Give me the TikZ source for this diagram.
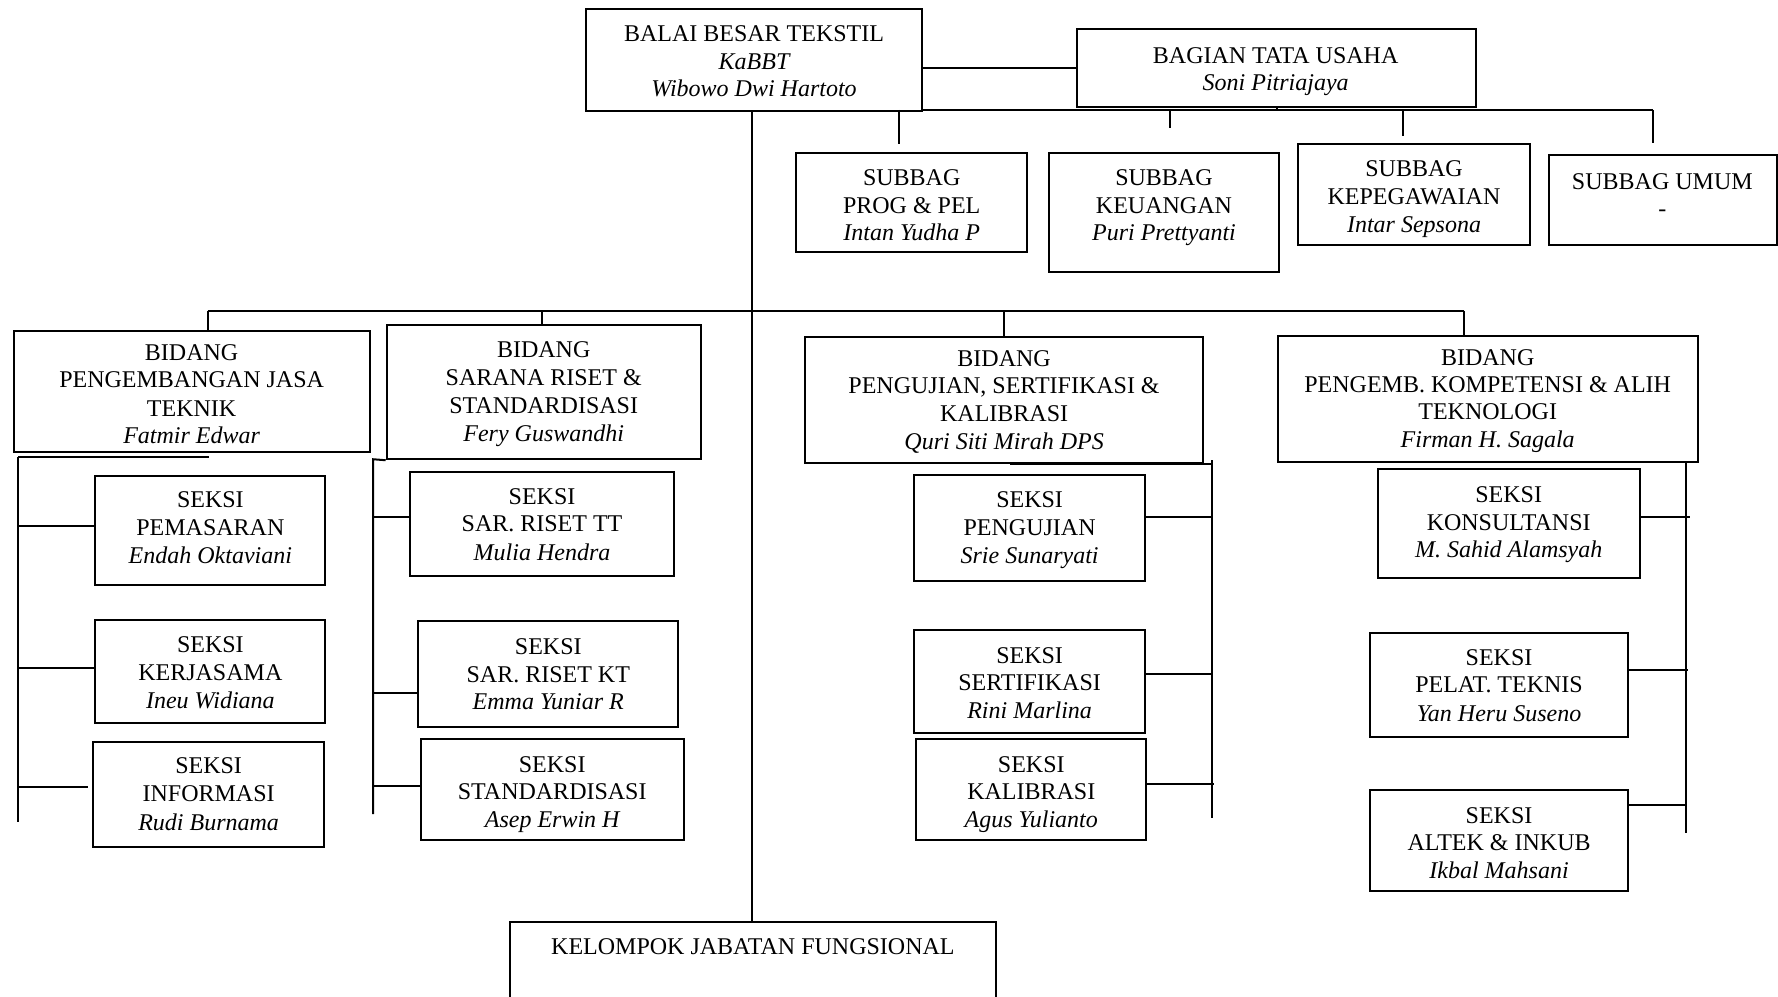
\documentclass[tikz,border=0pt]{standalone}
\usepackage{fontspec}
\setmainfont{Liberation Serif}
\usetikzlibrary{fit}
\tikzset{
  ln/.style={line width=1pt},
  box/.style={draw, line width=1pt, inner sep=0pt, rectangle},
  txt/.style={anchor=base, inner sep=0pt, font=\fontsize{12}{13.8}\selectfont},
  nm/.style={anchor=base, inner sep=0pt, font=\fontsize{12}{13.8}\selectfont\itshape}
}
\newcommand\obox[5]{\node[box, fit={(#2,#3) (#4,#5)}] (#1) {};}
\begin{document}
\begin{tikzpicture}[x=0.56696pt, y=-0.56696pt]
\useasboundingbox (0,0) rectangle (1568,879);
\clip (0,0) rectangle (1568,879);

% ---------- top level ----------
\obox{balai}{517}{8}{813}{98}
\node[txt] (balai-1) at (665,37) {BALAI BESAR TEKSTIL};
\node[nm]  (balai-2) at (665,61) {KaBBT};
\node[nm]  (balai-3) at (665,85.5) {Wibowo Dwi Hartoto};

\obox{bagian}{950}{26}{1302}{94}
\node[txt] (bagian-1) at (1125,56) {BAGIAN TATA USAHA};
\node[nm]  (bagian-2) at (1125,80) {Soni Pitriajaya};

\obox{prog}{702}{135}{906}{222}
\node[txt] (prog-1) at (804,164) {SUBBAG};
\node[txt] (prog-2) at (804,188) {PROG \& PEL};
\node[nm]  (prog-3) at (804,212) {Intan Yudha P};

\obox{keu}{925}{135}{1128}{240}
\node[txt] (keu-1) at (1026.5,164) {SUBBAG};
\node[txt] (keu-2) at (1026.5,188) {KEUANGAN};
\node[nm]  (keu-3) at (1026.5,212) {Puri Prettyanti};

\obox{kepeg}{1145}{127}{1349}{216}
\node[txt] (kepeg-1) at (1247,156) {SUBBAG};
\node[txt] (kepeg-2) at (1247,180) {KEPEGAWAIAN};
\node[nm]  (kepeg-3) at (1247,205) {Intar Sepsona};

\obox{umum}{1366}{137}{1567}{216}
\node[txt] (umum-1) at (1466,167) {SUBBAG UMUM};
\node[txt] (umum-2) at (1466,191) {-};

% connectors top
\draw[ln] (balai.east |- bagian.west) -- (bagian.west);
\coordinate (tuR) at (1458,97);
\coordinate (d1) at (793,127);
\coordinate (d2) at (1032,113);
\coordinate (d3) at (1237,120);
\coordinate (d4) at (1458,126);
\draw[ln] (balai.east |- tuR) -- (tuR);
\draw[ln] (bagian.south) -- (bagian.south |- tuR);
\draw[ln] (d1 |- tuR) -- (d1);
\draw[ln] (d2 |- tuR) -- (d2);
\draw[ln] (d3 |- tuR) -- (d3);
\draw[ln] (tuR) -- (d4);

% ---------- bidang ----------
\obox{jasa}{12}{292}{326}{399}
\node[txt] (jasa-1) at (169,318) {BIDANG};
\node[txt] (jasa-2) at (169,342) {PENGEMBANGAN JASA};
\node[txt] (jasa-3) at (169,367) {TEKNIK};
\node[nm]  (jasa-4) at (169,391) {Fatmir Edwar};

\obox{sarana}{341}{287}{618}{405}
\node[txt] (sarana-1) at (479.5,315) {BIDANG};
\node[txt] (sarana-2) at (479.5,340) {SARANA RISET \&};
\node[txt] (sarana-3) at (479.5,365) {STANDARDISASI};
\node[nm]  (sarana-4) at (479.5,389) {Fery Guswandhi};

\obox{uji}{710}{297}{1061}{408}
\node[txt] (uji-1) at (885.5,323) {BIDANG};
\node[txt] (uji-2) at (885.5,347) {PENGUJIAN, SERTIFIKASI \&};
\node[txt] (uji-3) at (885.5,372) {KALIBRASI};
\node[nm]  (uji-4) at (885.5,396) {Quri Siti Mirah DPS};

\obox{komp}{1127}{296}{1497}{407}
\node[txt] (komp-1) at (1312,322) {BIDANG};
\node[txt] (komp-2) at (1312,346) {PENGEMB. KOMPETENSI \& ALIH};
\node[txt] (komp-3) at (1312,370) {TEKNOLOGI};
\node[nm]  (komp-4) at (1312,395) {Firman H. Sagala};

% main bus
\coordinate (busL) at (183,274);
\coordinate (b2) at (478,274);
\coordinate (b3) at (885,274);
\coordinate (busR) at (1291,274);
\coordinate (trunk) at (663,274);
\draw[ln] (busL) -- (busR);
\draw[ln] (busL) -- (jasa.north -| busL);
\draw[ln] (b2) -- (sarana.north -| b2);
\draw[ln] (b3) -- (uji.north -| b3);
\draw[ln] (busR) -- (komp.north -| busR);

% ---------- kelompok ----------
\obox{kel}{450}{813}{878}{900}
\node[txt] (kel-1) at (664,842) {KELOMPOK JABATAN FUNGSIONAL};
\draw[ln] (balai.south -| trunk) -- (kel.north -| trunk);

% ---------- seksi: jasa ----------
\obox{pemas}{84}{420}{287}{516}
\node[txt] (pemas-1) at (185.5,448) {SEKSI};
\node[txt] (pemas-2) at (185.5,472) {PEMASARAN};
\node[nm]  (pemas-3) at (185.5,497) {Endah Oktaviani};

\obox{kerja}{84}{547}{287}{638}
\node[txt] (kerja-1) at (185.5,575.5) {SEKSI};
\node[txt] (kerja-2) at (185.5,600) {KERJASAMA};
\node[nm]  (kerja-3) at (185.5,624.5) {Ineu Widiana};

\obox{info}{82}{654}{286}{747}
\node[txt] (info-1) at (184,682.5) {SEKSI};
\node[txt] (info-2) at (184,707) {INFORMASI};
\node[nm]  (info-3) at (184,732) {Rudi Burnama};

\coordinate (v1t) at (16,403);
\coordinate (v1b) at (16,725);
\coordinate (u1) at (184,403);
\coordinate (h11) at (16,464);
\coordinate (h12) at (16,589);
\coordinate (h13) at (16,694);
\coordinate (e13) at (78,694);
\draw[ln] (v1t) -- (v1b);
\draw[ln] (v1t) -- (u1);
\draw[ln] (h11) -- (h11 -| pemas.west);
\draw[ln] (h12) -- (h12 -| kerja.west);
\draw[ln] (h13) -- (e13);

% ---------- seksi: sarana ----------
\obox{tt}{362}{416}{594}{508}
\node[txt] (tt-1) at (478,444.5) {SEKSI};
\node[txt] (tt-2) at (478,469) {SAR. RISET TT};
\node[nm]  (tt-3) at (478,494) {Mulia Hendra};

\obox{kt}{369}{548}{598}{641}
\node[txt] (kt-1) at (483.5,577) {SEKSI};
\node[txt] (kt-2) at (483.5,602) {SAR. RISET KT};
\node[nm]  (kt-3) at (483.5,626) {Emma Yuniar R};

\obox{std}{371}{652}{603}{741}
\node[txt] (std-1) at (487,681) {SEKSI};
\node[txt] (std-2) at (487,705) {STANDARDISASI};
\node[nm]  (std-3) at (487,730) {Asep Erwin H};

\coordinate (v2t) at (329,405);
\coordinate (v2b) at (329,718);
\coordinate (h21) at (329,455.5);
\coordinate (h22) at (329,611);
\coordinate (h23) at (329,693);
\draw[ln] (sarana.south west) -- (v2t) -- (v2b);
\draw[ln] (h21) -- (h21 -| tt.west);
\draw[ln] (h22) -- (h22 -| kt.west);
\draw[ln] (h23) -- (h23 -| std.west);

% ---------- seksi: pengujian ----------
\obox{suji}{806}{419}{1010}{512}
\node[txt] (suji-1) at (908,448) {SEKSI};
\node[txt] (suji-2) at (908,472) {PENGUJIAN};
\node[nm]  (suji-3) at (908,497) {Srie Sunaryati};

\obox{sert}{806}{556}{1010}{646}
\node[txt] (sert-1) at (908,585) {SEKSI};
\node[txt] (sert-2) at (908,609) {SERTIFIKASI};
\node[nm]  (sert-3) at (908,634) {Rini Marlina};

\obox{kalib}{808}{652}{1011}{741}
\node[txt] (kalib-1) at (909.5,681) {SEKSI};
\node[txt] (kalib-2) at (909.5,705) {KALIBRASI};
\node[nm]  (kalib-3) at (909.5,730) {Agus Yulianto};

\coordinate (v3t) at (1068.5,406);
\coordinate (v3b) at (1068.5,721);
\coordinate (u3) at (891,409);
\coordinate (h31) at (1068.5,455.5);
\coordinate (h32) at (1068.5,594.5);
\coordinate (e33) at (1071,691.5);
\draw[ln] (v3t) -- (v3b);
\draw[ln] (u3) -- (u3 -| v3t);
\draw[ln] (suji.east |- h31) -- (h31);
\draw[ln] (sert.east |- h32) -- (h32);
\draw[ln] (kalib.east |- e33) -- (e33);

% ---------- seksi: kompetensi ----------
\obox{kons}{1215}{414}{1446}{510}
\node[txt] (kons-1) at (1330.5,443.5) {SEKSI};
\node[txt] (kons-2) at (1330.5,467.5) {KONSULTANSI};
\node[nm]  (kons-3) at (1330.5,492) {M. Sahid Alamsyah};

\obox{pelat}{1208}{558}{1436}{650}
\node[txt] (pelat-1) at (1322,587) {SEKSI};
\node[txt] (pelat-2) at (1322,611) {PELAT. TEKNIS};
\node[nm]  (pelat-3) at (1322,636) {Yan Heru Suseno};

\obox{altek}{1208}{697}{1436}{786}
\node[txt] (altek-1) at (1322,726) {SEKSI};
\node[txt] (altek-2) at (1322,750) {ALTEK \& INKUB};
\node[nm]  (altek-3) at (1322,775) {Ikbal Mahsani};

\coordinate (v4t) at (1487,407);
\coordinate (v4b) at (1487,735);
\coordinate (e41) at (1490,456);
\coordinate (e42) at (1489,591);
\coordinate (h43) at (1487,710);
\draw[ln] (v4t) -- (v4b);
\draw[ln] (kons.east |- e41) -- (e41);
\draw[ln] (pelat.east |- e42) -- (e42);
\draw[ln] (altek.east |- h43) -- (h43);
\end{tikzpicture}
\end{document}
